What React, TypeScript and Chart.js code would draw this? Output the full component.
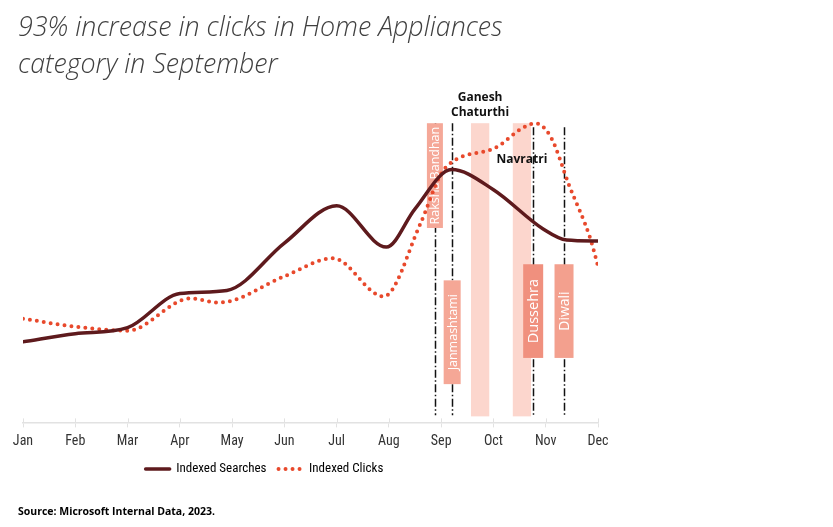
import React, { useEffect, useRef } from 'react';
import { Chart, registerables } from 'chart.js';

Chart.register(...registerables);

// ---- data ----
const MONTHS = ['Jan', 'Feb', 'Mar', 'Apr', 'May', 'Jun', 'Jul', 'Aug', 'Sep', 'Oct', 'Nov', 'Dec'];

// x = month index (0 = Jan), y = index value
const SEARCH_MONTH = [0, 1, 2, 3, 3.9, 5, 6, 6.95, 7.5, 8.2, 9, 9.95, 10.4, 11];
const SEARCH_INDEX = [80, 88, 94, 128, 131, 178, 215, 174, 212, 251, 231, 192, 181, 180];

const CLICK_MONTH = [0, 1, 2, 3.2, 3.75, 5, 5.93, 6.9, 7.6, 8.0, 8.25, 9.05, 9.55, 9.8, 10.1, 10.45, 10.85, 11];
const CLICK_INDEX = [103, 95, 91, 123, 119, 145, 163, 125, 197, 247, 260, 273, 292, 297, 283, 235, 183, 155];

// festival markers
const EVENT_NAMES = ['Raksha Bandhan', 'Janmashtami', 'Dussehra', 'Diwali'];
const EVENT_MONTH = [7.88, 8.21, 9.76, 10.35];
const EVENT_LINE_TOP = [297, 297, 293, 293];
const EVENT_BOX_LOW = [193, 38, 64, 64];
const EVENT_BOX_HIGH = [297, 141, 157, 157];

// festival periods
const PERIOD_NAMES = [['Ganesh', 'Chaturthi'], ['Navratri']];
const PERIOD_START = [8.57, 9.37];
const PERIOD_END = [8.92, 9.72];
const PERIOD_LABEL_AT = [315, 261];

const Y_MAX = 330;
const BAND_TOP = 297;
const BAND_BOTTOM = 6;
const LINE_BOTTOM = 7;

// ---- styles ----
const SEARCH_COLOR = '#5e1a1d';
const CLICK_COLOR = '#e8492c';
const BAND_COLOR = '#fcd6cd';
const BOX_COLORS = ['#f5a898', '#f5a796', '#f0907e', '#f3a08e'];
const BOX_WIDTHS = [16, 17, 20, 19];
const BOX_FONT = [12.5, 12.5, 14.5, 14];
const NARROW = '"Roboto Condensed", Roboto, sans-serif';
const LEGEND_CENTER_PX = 264.5;
const AXIS_COLOR = '#e2e2e2';

const festivals = {
  id: 'festivals',
  beforeDatasetsDraw(chart: any) {
    const { ctx, scales } = chart;
    const x = scales.x;
    const y = scales.y;
    ctx.save();
    PERIOD_START.forEach((s, i) => {
      const x0 = x.getPixelForValue(s);
      const x1 = x.getPixelForValue(PERIOD_END[i]);
      const y0 = y.getPixelForValue(BAND_TOP);
      const y1 = y.getPixelForValue(BAND_BOTTOM);
      ctx.fillStyle = BAND_COLOR;
      ctx.fillRect(x0, y0, x1 - x0, y1 - y0);
    });
    ctx.strokeStyle = '#111';
    ctx.lineWidth = 1.5;
    ctx.setLineDash([8, 2.5, 1.5, 2.5]);
    EVENT_MONTH.forEach((m, i) => {
      const px = Math.round(x.getPixelForValue(m)) + 0.5;
      ctx.beginPath();
      ctx.moveTo(px, y.getPixelForValue(EVENT_LINE_TOP[i]));
      ctx.lineTo(px, y.getPixelForValue(LINE_BOTTOM));
      ctx.stroke();
    });
    ctx.setLineDash([]);
    EVENT_MONTH.forEach((m, i) => {
      const cx = x.getPixelForValue(m);
      const yTop = y.getPixelForValue(EVENT_BOX_HIGH[i]);
      const yBot = y.getPixelForValue(EVENT_BOX_LOW[i]);
      const w = BOX_WIDTHS[i];
      ctx.fillStyle = BOX_COLORS[i];
      ctx.fillRect(cx - w / 2, yTop, w, yBot - yTop);
      ctx.save();
      ctx.translate(cx, (yTop + yBot) / 2);
      ctx.rotate(-Math.PI / 2);
      ctx.fillStyle = '#ffffff';
      ctx.font = `${BOX_FONT[i]}px "Open Sans", "Noto Sans", sans-serif`;
      ctx.textAlign = 'center';
      ctx.textBaseline = 'middle';
      ctx.fillText(EVENT_NAMES[i], 0, 1);
      ctx.restore();
    });
    ctx.fillStyle = '#111';
    ctx.font = 'bold 12px "Open Sans", "Noto Sans", sans-serif';
    ctx.textAlign = 'center';
    ctx.textBaseline = 'middle';
    PERIOD_NAMES.forEach((lines, i) => {
      const cx = (x.getPixelForValue(PERIOD_START[i]) + x.getPixelForValue(PERIOD_END[i])) / 2;
      const cy = y.getPixelForValue(PERIOD_LABEL_AT[i]);
      const lh = 15;
      lines.forEach((t, j) => {
        ctx.fillText(t, cx, cy + (j - (lines.length - 1) / 2) * lh);
      });
    });
    ctx.restore();
  },
  afterDraw(chart: any) {
    // short tick marks that cross the axis line upward as well
    const { ctx, scales } = chart;
    const x = scales.x;
    ctx.save();
    ctx.strokeStyle = AXIS_COLOR;
    ctx.lineWidth = 1;
    MONTHS.forEach((_, i) => {
      const px = Math.round(x.getPixelForValue(i)) + 0.5;
      ctx.beginPath();
      ctx.moveTo(px, x.top - 4);
      ctx.lineTo(px, x.top);
      ctx.stroke();
    });
    ctx.restore();
  },
};

// moves the (full-width) legend so its items are centred under the plot's left part
const legendShift = {
  id: 'legendShift',
  afterLayout(chart: any) {
    const l = chart.legend;
    if (!l || !l.lineWidths) return;
    const pad = l.options.labels.padding;
    const lw = l.lineWidths[0];
    const start = (l.left + pad + l.right - lw) / 2;
    const center = start + (lw - pad) / 2;
    const shift = LEGEND_CENTER_PX - center;
    l.left += shift;
    l.right += shift;
  },
};

export default function App() {
  const ref = useRef<HTMLCanvasElement | null>(null);

  useEffect(() => {
    if (!ref.current) return;
    const chart = new Chart(ref.current, {
      type: 'line',
      data: {
        datasets: [
          {
            label: 'Indexed Searches',
            data: SEARCH_MONTH.map((m, i) => ({ x: m, y: SEARCH_INDEX[i] })),
            borderColor: SEARCH_COLOR,
            backgroundColor: SEARCH_COLOR,
            borderWidth: 3.5,
            pointRadius: 0,
            cubicInterpolationMode: 'monotone',
            borderCapStyle: 'round',
          },
          {
            label: 'Indexed Clicks',
            data: CLICK_MONTH.map((m, i) => ({ x: m, y: CLICK_INDEX[i] })),
            borderColor: CLICK_COLOR,
            backgroundColor: CLICK_COLOR,
            borderWidth: 4,
            borderDash: [0, 7],
            borderCapStyle: 'round',
            pointRadius: 0,
            cubicInterpolationMode: 'monotone',
          },
        ],
      },
      options: {
        animation: false,
        responsive: false,
        layout: { padding: { left: 18, right: 235, top: 0, bottom: 0 }, autoPadding: false },
        scales: {
          x: {
            type: 'linear',
            min: 0,
            max: 11,
            ticks: {
              stepSize: 1,
              autoSkip: false,
              maxRotation: 0,
              padding: 6,
              color: '#333',
              font: { family: NARROW, size: 14, lineHeight: 1.2 },
              callback: (v: any) => MONTHS[Math.round(Number(v))] ?? '',
            },
            grid: { display: true, drawOnChartArea: false, drawTicks: true, tickLength: 5, color: AXIS_COLOR, lineWidth: 1 },
            border: { display: true, color: AXIS_COLOR, width: 1.5 },
            afterFit: (s: any) => {
              s.height = 28;
            },
          },
          y: {
            type: 'linear',
            min: 0,
            max: Y_MAX,
            ticks: { display: false },
            grid: { display: false },
            border: { display: false },
            afterFit: (s: any) => {
              s.width = 5;
            },
          },
        },
        plugins: {
          title: {
            display: true,
            text: ['93% increase in clicks in Home Appliances', 'category in September'],
            align: 'start',
            color: '#404040',
            font: { family: 'Open Sans', size: 26.8, style: 'italic', weight: 300, lineHeight: 1.38 },
            padding: { top: 10, bottom: 6 },
          },
          subtitle: {
            display: true,
            position: 'bottom',
            align: 'start',
            text: 'Source: Microsoft Internal Data, 2023.',
            color: '#000',
            font: { family: 'Open Sans', size: 10.5, weight: 'bold', lineHeight: 1.2 },
            padding: { top: 20, bottom: 9 },
          },
          legend: {
            position: 'bottom',
            labels: {
              usePointStyle: true,
              pointStyle: 'line',
              pointStyleWidth: 24,
              color: '#333',
              font: { family: NARROW, size: 13, lineHeight: 1.2 },
              padding: 12,
              generateLabels: (c: any) =>
                c.data.datasets.map((ds: any, i: number) => ({
                  text: ds.label,
                  fillStyle: ds.borderColor,
                  strokeStyle: ds.borderColor,
                  lineWidth: ds.borderWidth,
                  lineDash: ds.borderDash || [],
                  lineCap: ds.borderCapStyle || 'butt',
                  pointStyle: 'line',
                  hidden: !c.isDatasetVisible(i),
                  datasetIndex: i,
                })),
            },
          },
          tooltip: { enabled: false },
        },
      },
      plugins: [festivals, legendShift],
    });
    return () => chart.destroy();
  }, []);

  return (
    <div style={{ position: 'fixed', left: 0, top: 0, width: 833, height: 527, background: '#fff' }}>
      <canvas ref={ref} width={833} height={527} style={{ width: 833, height: 527 }} />
    </div>
  );
}
